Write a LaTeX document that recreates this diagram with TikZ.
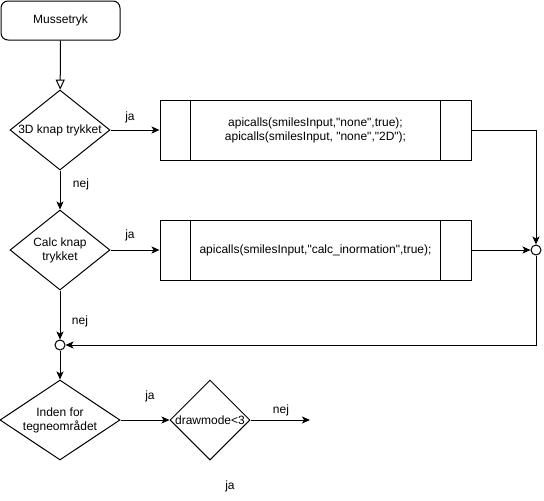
\documentclass[tikz,border=0pt]{standalone}
\usepackage{fontspec}
\setmainfont{Liberation Sans}[Ligatures=TeXOff]
\usetikzlibrary{shapes.geometric,arrows.meta}
\newcommand\dq{\symbol{34}}
\begin{document}
\begin{tikzpicture}[x=1pt,y=-1pt,line width=1pt,
  font=\fontsize{12}{14}\selectfont,
  arr/.style={-{Stealth[length=8pt,width=7pt,inset=2pt]}},
  openarr/.style={-{Triangle[open,length=10pt,width=9pt]}},
  dec/.style={draw,diamond,minimum width=100pt,minimum height=80pt,inner sep=0pt},
  proc/.style={draw,rectangle,minimum width=311pt,minimum height=60pt,inner sep=0pt,align=center},
  start/.style={draw,rectangle,rounded corners=7pt,minimum width=119pt,minimum height=39pt},
  junc/.style={draw,circle,minimum size=10pt,inner sep=0pt,fill=white},
  lbl/.style={inner sep=1pt}]
\useasboundingbox (0,0) rectangle (544,501);

\node[start] (s) at (60.5,20.5) {Mussetryk};
\node[dec,label={[align=center]center:3D knap trykket}] (d1) at (60,130) {};
\node[proc] (b1) at (315.5,130) {apicalls(smilesInput,"none",true);\\apicalls(smilesInput, "none","2D");};
\draw ([xshift=31pt]b1.north west) -- ([xshift=31pt]b1.south west);
\draw ([xshift=-31pt]b1.north east) -- ([xshift=-31pt]b1.south east);

\node[dec,label={[align=center]center:Calc knap\\trykket}] (d2) at (60,250) {};
\node[proc] (b2) at (315.5,250) {apicalls(smilesInput,"calc\_inormation",true);};
\draw ([xshift=31pt]b2.north west) -- ([xshift=31pt]b2.south west);
\draw ([xshift=-31pt]b2.north east) -- ([xshift=-31pt]b2.south east);

\node[junc] (cr) at (536,250) {};
\node[junc] (cl) at (60,345) {};

\node[dec,minimum width=120pt,label={[align=center]center:Inden for\\tegneområdet}] (d3) at (60,420) {};
\node[dec,minimum width=80pt,label={center:drawmode<3}] (d4) at (210,420) {};
\coordinate (e4) at (310,420);

\draw[openarr] (s) -- (d1);
\draw[arr] (d1) -- (b1);
\draw[arr] (d1) -- (d2);
\draw[arr] (d2) -- (b2);
\draw[arr] (b1.east) -| (cr.north);
\draw[arr] (b2) -- (cr);
\draw[arr] (cr.south) |- (cl.east);
\draw[arr] (d2) -- (cl);
\draw[arr] (cl) -- (d3);
\draw[arr] (d3) -- (d4);
\draw[arr] (d4) -- (e4);

\node[lbl] (l1) at (130,117) {ja};
\node[lbl] (l2) at (81,184) {nej};
\node[lbl] (l3) at (130,235) {ja};
\node[lbl] (l4) at (80,321) {nej};
\node[lbl] (l5) at (150,396) {ja};
\node[lbl] (l6) at (281,410) {nej};
\node[lbl] (l7) at (230,486) {ja};
\end{tikzpicture}
\end{document}
